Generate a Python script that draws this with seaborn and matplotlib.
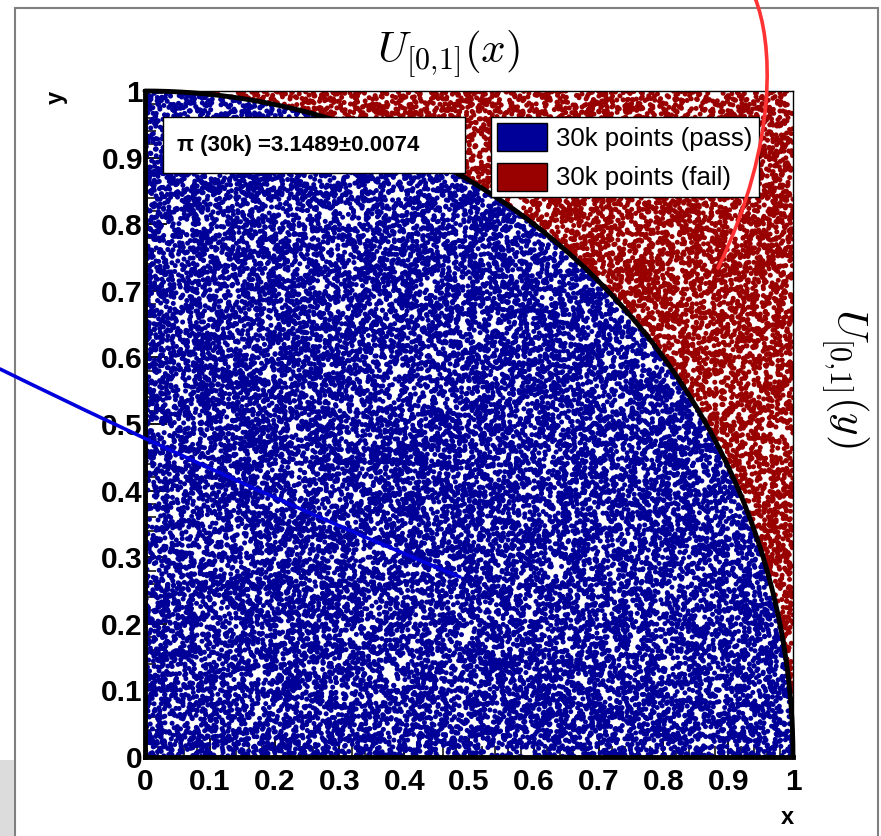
import numpy as np
import pandas as pd
import matplotlib
matplotlib.use("Agg")
import matplotlib.pyplot as plt
import seaborn as sns
from matplotlib.patches import Rectangle, Patch, PathPatch
from matplotlib.path import Path
from matplotlib.ticker import FixedLocator, MultipleLocator

# ---- values ----
N_POINTS = 30000
PI_TEXT = "π (30k) =3.1489±0.0074"
SERIES = ["30k points (pass)", "30k points (fail)"]
COLORS = ["#000099", "#990000"]
TICKS = [0.0, 0.1, 0.2, 0.3, 0.4, 0.5, 0.6, 0.7, 0.8, 0.9, 1.0]
TICK_LABELS = ["0", "0.1", "0.2", "0.3", "0.4", "0.5", "0.6", "0.7", "0.8", "0.9", "1"]
TITLE = r"$U_{[0{,}1]}(x)$"
RIGHT_LABEL = r"$U_{[0{,}1]}(y)$"

# The chart shows a Monte Carlo draw of uniform points in the unit square
rng = np.random.default_rng(2024)
xs = rng.uniform(0.0, 1.0, N_POINTS)
ys = rng.uniform(0.0, 1.0, N_POINTS)
status = np.where(xs ** 2 + ys ** 2 <= 1.0, SERIES[0], SERIES[1])
df = pd.DataFrame({"x": xs, "y": ys, "status": status})

sns.set_theme(style="white")
plt.rcParams["font.family"] = ["Liberation Sans", "DejaVu Sans"]
plt.rcParams["mathtext.fontset"] = "cm"
plt.rcParams["text.color"] = "black"
plt.rcParams["xtick.labelcolor"] = "black"
plt.rcParams["ytick.labelcolor"] = "black"
plt.rcParams["legend.labelcolor"] = "black"

W, H = 881, 836
fig = plt.figure(figsize=(W / 100, H / 100), dpi=100)
fig.patch.set_facecolor("white")


def fx(px):
    return px / W


def fy(py):
    return 1 - py / H


ax = fig.add_axes([fx(145), fy(757), (793 - 145) / W, (757 - 91) / H])
sns.scatterplot(data=df, x="x", y="y", hue="status",
                palette=dict(zip(SERIES, COLORS)), hue_order=SERIES,
                s=13, linewidth=0, legend=False, ax=ax, zorder=2)

# quarter circle boundary x^2 + y^2 = 1
t = np.linspace(0, np.pi / 2, 400)
ax.plot(np.cos(t), np.sin(t), color="black", lw=3.5, zorder=5, clip_on=False)

ax.set_xlim(0, 1)
ax.set_ylim(0, 1)
ax.set_xlabel("")
ax.set_ylabel("")
ax.xaxis.set_major_locator(FixedLocator(TICKS))
ax.yaxis.set_major_locator(FixedLocator(TICKS))
ax.set_xticklabels(TICK_LABELS, fontsize=21.5, fontweight="bold", color="black")
ax.set_yticklabels(TICK_LABELS, fontsize=21.5, fontweight="bold", color="black")
ax.xaxis.set_minor_locator(MultipleLocator(0.02))
ax.yaxis.set_minor_locator(MultipleLocator(0.02))
ax.tick_params(axis="x", which="major", direction="in", length=14, width=1.3,
               color="black", pad=8, bottom=True, top=False)
ax.tick_params(axis="y", which="major", direction="in", length=16, width=1.3,
               color="black", pad=1.5, left=True, right=False)
ax.tick_params(which="minor", direction="in", length=8, width=1.1, color="black",
               bottom=True, left=True, top=False, right=False)
for side in ["left", "bottom"]:
    ax.spines[side].set_linewidth(3.5)
    ax.spines[side].set_color("black")
    ax.spines[side].set_zorder(6)
for side in ["top", "right"]:
    ax.spines[side].set_linewidth(1.0)
    ax.spines[side].set_color("black")
ax.grid(False)

# pi estimate box
fig.patches.append(Rectangle((fx(163), fy(173)), (465 - 163) / W, (173 - 117) / H,
                             transform=fig.transFigure, facecolor="white",
                             edgecolor="black", lw=1.0, zorder=10))
fig.text(fx(177), fy(145), PI_TEXT, fontsize=16, fontweight="bold", color="black",
         ha="left", va="center", zorder=11)

# legend
handles = [Patch(facecolor=c, edgecolor="black", lw=1.0) for c in COLORS]
leg = ax.legend(handles, SERIES, loc="upper left",
                bbox_to_anchor=(fx(491), fy(117)), bbox_transform=fig.transFigure,
                fontsize=18.5, frameon=True, fancybox=False, framealpha=1,
                edgecolor="black", handlelength=1.95, handleheight=1.3,
                handletextpad=0.35, labelspacing=0.45, borderpad=0.24,
                borderaxespad=0)
leg.get_frame().set_linewidth(1.0)
leg.set_zorder(12)

# titles / labels
fig.text(fx(449), fy(54), TITLE, fontsize=31, ha="center", va="center", color="black")
fig.text(fx(845), fy(378), RIGHT_LABEL, fontsize=31, ha="center", va="center",
         rotation=270, color="black")
fig.text(fx(56), fy(97), "y", fontsize=17, fontweight="bold", ha="center",
         va="center", rotation=90, color="black")
fig.text(fx(787), fy(818), "x", fontsize=17, fontweight="bold", ha="center",
         va="center", color="black")

# outer frame of the screenshot
frame = Path([(fx(15), fy(836)), (fx(15), fy(8)), (fx(878), fy(8)), (fx(878), fy(836))])
fig.patches.append(PathPatch(frame, transform=fig.transFigure, fill=False,
                             edgecolor="#808080", lw=1.5, zorder=1))
fig.patches.append(Rectangle((0, 0), fx(14), (836 - 760) / H,
                             transform=fig.transFigure, facecolor="#dcdcdc",
                             edgecolor="none", zorder=1))

# hand-drawn annotation strokes
blue = Path([(fx(0), fy(369)), (fx(228), fy(481)), (fx(460), fy(577))],
            [Path.MOVETO, Path.CURVE3, Path.CURVE3])
fig.patches.append(PathPatch(blue, transform=fig.transFigure, fill=False,
                             edgecolor="#0000dd", lw=2.6, zorder=20,
                             capstyle="round"))
red = Path([(fx(755), fy(-2)), (fx(772), fy(40)), (fx(780), fy(140)), (fx(718), fy(268))],
           [Path.MOVETO, Path.CURVE4, Path.CURVE4, Path.CURVE4])
fig.patches.append(PathPatch(red, transform=fig.transFigure, fill=False,
                             edgecolor="#ff3333", lw=2.6, zorder=20,
                             capstyle="round"))

fig.savefig("out.png", dpi=100, facecolor="white")
